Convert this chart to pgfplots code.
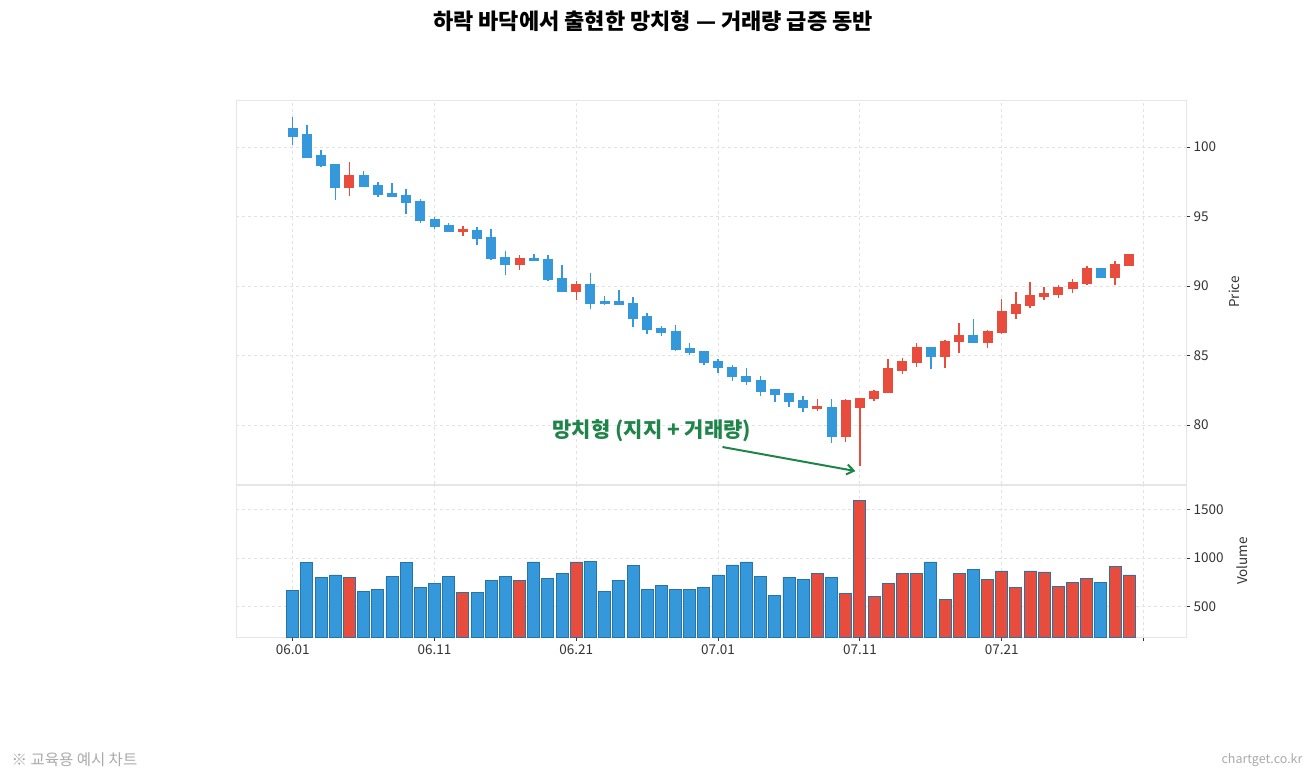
\documentclass[border=0pt]{standalone}
\usepackage{fontspec}
\setmainfont{Noto Sans CJK KR}
\usepackage{pgfplots}
\pgfplotsset{compat=1.18}
\usepackage{pgfplotstable}
\usetikzlibrary{arrows.meta}
\definecolor{upc}{HTML}{E74C3C}
\definecolor{dnc}{HTML}{3498DB}
\definecolor{edgec}{HTML}{2874A6}
\definecolor{anno}{HTML}{1E8449}
\definecolor{gridc}{HTML}{E2E2E2}
\definecolor{framec}{HTML}{E6E6E6}
\definecolor{txtc}{HTML}{333333}
\definecolor{footc}{HTML}{AAAAAA}

% down (blue) candles
\pgfplotstableread{
d o h l c v
0 101.34 102.13 100.14 100.81 664
1 100.86 101.58 99.19 99.30 949
2 99.35 99.78 98.59 98.66 795
3 98.71 98.78 96.20 97.08 825
5 97.92 98.30 97.15 97.15 651
6 97.20 97.47 96.39 96.61 671
7 96.63 97.40 96.44 96.44 805
8 96.49 97.01 95.20 96.01 949
9 96.04 96.25 94.53 94.72 692
10 94.77 95.00 94.10 94.29 733
11 94.34 94.53 93.86 93.93 805
13 94.00 94.24 92.97 93.45 641
14 93.45 94.10 91.85 91.99 764
15 92.02 92.49 90.82 91.59 805
17 91.97 92.31 91.78 91.85 959
18 91.90 92.21 90.34 90.52 784
19 90.54 91.49 89.56 89.63 836
21 90.11 90.95 88.36 88.77 969
22 88.84 89.27 88.62 88.75 651
23 88.84 89.75 88.67 88.70 764
24 88.75 89.23 87.05 87.69 918
25 87.76 88.08 86.57 86.88 671
26 86.95 87.12 86.40 86.69 712
27 86.72 87.17 85.33 85.45 671
28 85.50 85.93 85.02 85.21 671
29 85.25 85.33 84.32 84.49 692
30 84.54 84.78 83.78 84.13 825
31 84.14 84.30 83.18 83.49 928
32 83.49 84.14 82.87 83.13 959
33 83.18 83.53 82.10 82.46 805
34 82.53 82.58 81.63 82.20 610
35 82.22 82.34 81.31 81.72 795
36 81.72 82.10 80.95 81.27 774
38 81.27 81.86 78.71 79.23 795
45 85.52 85.57 84.06 84.92 959
48 86.45 87.60 85.96 85.97 877
57 91.23 91.25 90.59 90.66 743
}\downtab

% up (red) candles
\pgfplotstableread{
d o h l c v
4 97.08 98.95 96.51 97.92 795
12 93.98 94.29 93.62 94.02 641
16 91.59 92.21 91.18 91.95 764
20 89.63 90.39 88.96 90.11 959
37 81.25 81.90 81.02 81.28 836
39 79.23 81.91 78.76 81.74 630
40 81.27 81.98 77.03 81.86 1596
41 81.91 82.51 81.70 82.42 600
42 82.38 84.78 82.34 84.01 733
43 83.96 84.85 83.66 84.57 836
44 84.54 85.93 84.21 85.52 836
46 84.92 86.09 84.14 86.00 569
47 86.04 87.36 85.21 86.45 836
49 85.97 86.83 85.57 86.71 774
50 86.69 89.08 86.57 88.12 866
51 88.08 89.58 87.65 88.67 692
52 88.62 90.30 88.44 89.32 866
53 89.27 89.94 88.98 89.46 856
54 89.44 90.04 89.15 89.87 702
55 89.87 90.52 89.51 90.23 743
56 90.23 91.42 90.11 91.23 784
58 90.66 91.78 90.11 91.54 908
59 91.49 92.33 91.42 92.26 825
}\uptab

\pgfplotsset{
  panel/.style={
    scale only axis, width=950pt, anchor=south west,
    xmin=-4, xmax=63,
    xtick={0,10,...,60},
    yticklabel pos=right, ytick pos=right,
    axis line style={framec},
    grid=major, major grid style={gridc, dashed, line width=0.8pt},
    y tick style={txtc, line width=0.8pt},
    tick align=outside, major tick length=4pt,
    tick label style={font=\fontsize{13.5}{16}\selectfont, text=txtc},
    ylabel style={font=\fontsize{13.5}{16}\selectfont, text=txtc},
    ylabel shift=6pt,
    /pgf/number format/assume math mode=true,
    /pgf/number format/1000 sep={},
  },
  wick/.style={draw=none, forget plot, error bars/.cd, y dir=both, y explicit,
    error mark=none, error bar style={#1, line width=1.5pt}},
  body/.style={draw=none, forget plot, error bars/.cd, y dir=both, y explicit,
    error mark=none, error bar style={#1, line width=10pt}},
}

\begin{document}
\begin{tikzpicture}
\path[use as bounding box] (0pt,0pt) rectangle (1315pt,780pt);
\node[font=\fontsize{22}{26}\selectfont\bfseries, text=black] at (653pt,759pt) {하락 바닥에서 출현한 망치형 — 거래량 급증 동반};

\begin{axis}[panel, at={(236pt,296pt)}, height=384pt,
  ymin=75.76, ymax=103.38, ytick={80,85,90,95,100},
  xticklabels={}, x tick style={draw=none},
  ylabel={Price}]
\addplot[wick=dnc] table[x=d, y expr=(\thisrow{h}+\thisrow{l})/2, y error expr=(\thisrow{h}-\thisrow{l})/2]{\downtab};
\addplot[wick=upc] table[x=d, y expr=(\thisrow{h}+\thisrow{l})/2, y error expr=(\thisrow{h}-\thisrow{l})/2]{\uptab};
\addplot[body=dnc] table[x=d, y expr=(\thisrow{o}+\thisrow{c})/2, y error expr=abs(\thisrow{o}-\thisrow{c})/2+0.06]{\downtab};
\addplot[body=upc] table[x=d, y expr=(\thisrow{o}+\thisrow{c})/2, y error expr=abs(\thisrow{o}-\thisrow{c})/2+0.06]{\uptab};
\node[text=anno, font=\fontsize{21}{24}\selectfont\bfseries] at (axis cs:25.33,79.6) {망치형 (지지 + 거래량)};
\draw[anno, line width=2pt, -{Straight Barb[length=7pt,width=10pt]}] (axis cs:30.31,78.42) -- (axis cs:39.69,76.69);
\end{axis}

\begin{axis}[panel, at={(236pt,143pt)}, height=152pt,
  ymin=185, ymax=1753, ytick={500,1000,1500},
  xticklabels={06.01,06.11,06.21,07.01,07.11,07.21,{}},
  xtick pos=bottom, x tick style={txtc, line width=0.8pt},
  ylabel={Volume}]
\addplot[ybar, bar width=12pt, bar shift=0pt, fill=dnc, draw=edgec, line width=0.9pt] table[x=d, y=v]{\downtab};
\addplot[ybar, bar width=12pt, bar shift=0pt, fill=upc, draw=edgec, line width=0.9pt] table[x=d, y=v]{\uptab};
\end{axis}

\node[anchor=west, text=footc, font=\fontsize{15.5}{18}\selectfont] at (8pt,20pt) {※ 교육용 예시 차트};
\node[anchor=east, text=footc, font=\fontsize{12.5}{15}\selectfont] at (1306pt,20pt) {chartget.co.kr};
\end{tikzpicture}
\end{document}
